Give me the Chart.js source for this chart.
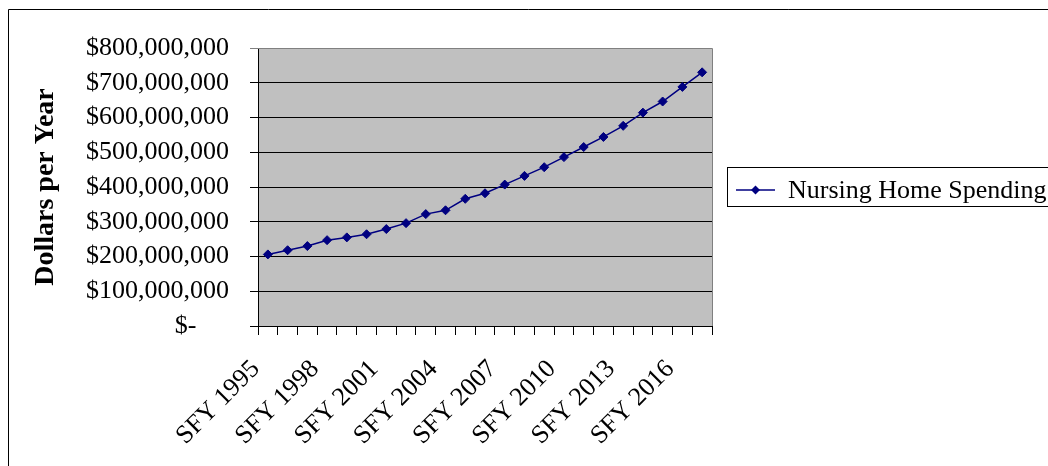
<!DOCTYPE html>
<html>
<head>
<meta charset="utf-8">
<script src="https://cdn.jsdelivr.net/npm/chart.js@4"></script>
<style>
  html, body { margin: 0; padding: 0; background: #fff; }
  canvas { display: block; }
</style>
</head>
<body>
<canvas id="chart" width="1048" height="466"></canvas>
<script>
// State fiscal years on the category axis
const fiscalYears = [
  'SFY 1995', 'SFY 1996', 'SFY 1997', 'SFY 1998', 'SFY 1999', 'SFY 2000',
  'SFY 2001', 'SFY 2002', 'SFY 2003', 'SFY 2004', 'SFY 2005', 'SFY 2006',
  'SFY 2007', 'SFY 2008', 'SFY 2009', 'SFY 2010', 'SFY 2011', 'SFY 2012',
  'SFY 2013', 'SFY 2014', 'SFY 2015', 'SFY 2016', 'SFY 2017'
];

// Nursing home spending, dollars per year
const nursingHomeSpending = [
  206000000, 218000000, 230000000, 247000000, 255000000, 264000000,
  279000000, 296000000, 322000000, 333000000, 366000000, 382000000,
  407000000, 432000000, 457000000, 486000000, 515000000, 544000000,
  576000000, 614000000, 646000000, 688000000, 730000000
];

// Category labels printed under the axis
const shownYearLabels = [
  'SFY 1995', 'SFY 1998', 'SFY 2001', 'SFY 2004',
  'SFY 2007', 'SFY 2010', 'SFY 2013', 'SFY 2016'
];

// Value axis labels, one per 100,000,000 step
const valueTickLabels = [
  '$-\u2007\u2007 ', '$100,000,000', '$200,000,000', '$300,000,000', '$400,000,000',
  '$500,000,000', '$600,000,000', '$700,000,000', '$800,000,000'
];
const valueStep = 100000000;

const seriesName = 'Nursing Home Spending';
const serif = 'Liberation Serif, "Times New Roman", serif';
const navy = '#000080';

// Grey plot-area fill behind the grid
const plotBackground = {
  id: 'plotBackground',
  beforeDraw(chart) {
    const { ctx, chartArea: a } = chart;
    ctx.save();
    ctx.fillStyle = '#C0C0C0';
    ctx.fillRect(a.left, a.top, a.right - a.left, a.bottom - a.top);
    ctx.restore();
  }
};

// Outer frame, plot border and the boxed legend
const frameAndLegend = {
  id: 'frameAndLegend',
  afterDraw(chart) {
    const { ctx, chartArea: a } = chart;
    ctx.save();
    // plot-area border (top and right)
    ctx.strokeStyle = '#808080';
    ctx.lineWidth = 1;
    ctx.beginPath();
    ctx.moveTo(a.left, Math.round(a.top) + 0.5);
    ctx.lineTo(Math.round(a.right) + 0.5, Math.round(a.top) + 0.5);
    ctx.lineTo(Math.round(a.right) + 0.5, a.bottom);
    ctx.stroke();

    // outer chart frame
    ctx.strokeStyle = '#000';
    ctx.beginPath();
    ctx.moveTo(8.5, 480);
    ctx.lineTo(8.5, 9.5);
    ctx.lineTo(1060, 9.5);
    ctx.stroke();

    // legend box
    ctx.strokeStyle = '#000';
    ctx.strokeRect(727.5, 167.5, 340, 39);

    // legend swatch: line with a diamond marker
    const ly = 190;
    ctx.strokeStyle = navy;
    ctx.lineWidth = 1.5;
    ctx.beginPath();
    ctx.moveTo(736, ly);
    ctx.lineTo(775, ly);
    ctx.stroke();
    ctx.fillStyle = navy;
    ctx.beginPath();
    ctx.moveTo(755.5, ly - 4.5);
    ctx.lineTo(760, ly);
    ctx.lineTo(755.5, ly + 4.5);
    ctx.lineTo(751, ly);
    ctx.closePath();
    ctx.fill();

    // legend text
    ctx.fillStyle = '#000';
    ctx.font = '26px ' + serif;
    ctx.textAlign = 'left';
    ctx.textBaseline = 'alphabetic';
    ctx.fillText(chart.data.datasets[0].label, 788, 198);
    ctx.restore();
  }
};

new Chart(document.getElementById('chart'), {
  type: 'line',
  data: {
    labels: fiscalYears,
    datasets: [{
      label: seriesName,
      data: nursingHomeSpending,
      borderColor: navy,
      backgroundColor: navy,
      borderWidth: 1.5,
      tension: 0,
      pointStyle: 'rectRot',
      pointRadius: 4.5,
      pointBorderWidth: 1,
      pointBackgroundColor: navy,
      pointBorderColor: navy,
      fill: false
    }]
  },
  options: {
    responsive: false,
    animation: false,
    devicePixelRatio: 1,
    layout: { padding: { left: 9, top: 48, right: 336, bottom: 0 } },
    plugins: {
      legend: { display: false },
      tooltip: { enabled: false }
    },
    scales: {
      x: {
        type: 'category',
        offset: true,
        grid: {
          offset: true,
          drawOnChartArea: false,
          drawTicks: true,
          tickLength: 9,
          color: '#000',
          lineWidth: 1
        },
        border: { color: '#000', width: 1 },
        ticks: {
          autoSkip: false,
          minRotation: 45,
          maxRotation: 45,
          padding: 19,
          labelOffset: -12,
          color: '#000',
          font: { family: serif, size: 26 },
          callback: function (value) {
            const label = this.getLabelForValue(value);
            return shownYearLabels.includes(label) ? label : '';
          }
        },
        afterFit(scale) { scale.height = 466 - 326; }
      },
      y: {
        min: 0,
        max: 800000000,
        grid: {
          color: (c) => (c.tick && c.tick.value === 800000000 ? '#808080' : '#000'),
          lineWidth: 1,
          drawTicks: true,
          tickLength: 8
        },
        border: { color: '#000', width: 1 },
        ticks: {
          stepSize: valueStep,
          padding: 21,
          color: '#000',
          font: { family: serif, size: 26 },
          callback: (value) => valueTickLabels[Math.round(value / valueStep)]
        },
        title: {
          display: true,
          text: 'Dollars per Year',
          color: '#000',
          font: { family: serif, size: 28, weight: 'bold' },
          padding: { top: 20, bottom: 0 }
        },
        afterFit(scale) { scale.width = 258 - 9; }
      }
    }
  },
  plugins: [plotBackground, frameAndLegend]
});
</script>
</body>
</html>
